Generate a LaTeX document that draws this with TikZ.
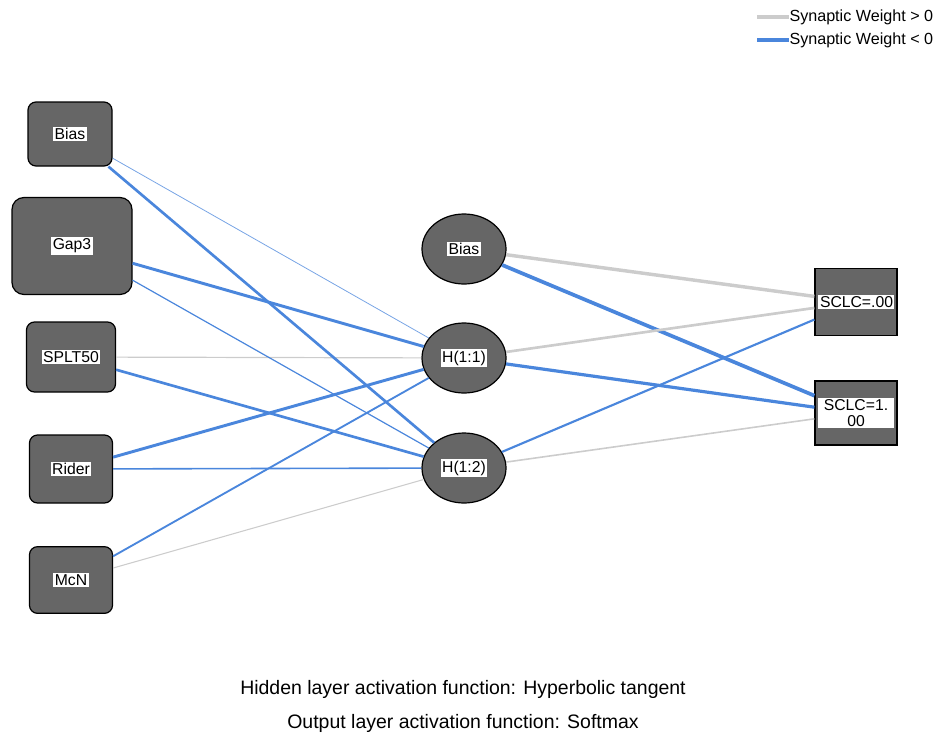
\documentclass[tikz,border=0pt]{standalone}
\usepackage{fontspec}
\setmainfont{Liberation Sans}
\usetikzlibrary{shapes.geometric}

\definecolor{wblue}{RGB}{74,134,220}
\definecolor{wgray}{RGB}{204,204,204}
\definecolor{nodefill}{RGB}{102,102,102}

\tikzset{every picture/.style={line width=0.75pt}}
\tikzset{
  inbox/.style={draw=black, fill=nodefill, rounded corners=6pt, line width=0.9pt},
  hidnode/.style={ellipse, draw=black, fill=nodefill, minimum width=63pt, minimum height=52.5pt, line width=0.9pt},
  outbox/.style={rectangle, draw=black, fill=nodefill, minimum width=61.5pt, line width=0.9pt},
  tag/.style={fill=white, inner sep=1.2pt, font=\fontsize{11.8}{12}\selectfont, align=center},
  poswt/.style={draw=wgray},
  negwt/.style={draw=wblue}
}

\begin{document}
\begin{tikzpicture}[x=0.75pt,y=0.75pt,yscale=-1,xscale=1]
	\useasboundingbox (0,0) rectangle (935,739);

	%Input layer
	\node [inbox, minimum width=63pt, minimum height=48pt, label={[tag]center:Bias}] (ib) at (70,134) {};
	\node [inbox, rounded corners=9pt, minimum width=90pt, minimum height=72.75pt, label={[tag]center:Gap3}] (gap) at (72,246) {};
	\node [inbox, minimum width=66.75pt, minimum height=52.5pt, label={[tag]center:SPLT50}] (splt) at (71,357) {};
	\node [inbox, minimum width=62.25pt, minimum height=51pt, label={[tag]center:Rider}] (rider) at (71,469) {};
	\node [inbox, minimum width=62.25pt, minimum height=50pt, label={[tag]center:McN}] (mcn) at (71,580) {};

	%Hidden layer
	\node [hidnode, label={[tag]center:Bias}] (hb) at (464,249) {};
	\node [hidnode, label={[tag]center:H(1:1)}] (h11) at (464,358) {};
	\node [hidnode, label={[tag]center:H(1:2)}] (h12) at (464,468) {};

	%Output layer
	\node [outbox, minimum height=50pt, label={[tag, text width=54pt]center:SCLC=.00}] (o0) at (856,302) {};
	\node [outbox, minimum height=48pt, label={[tag, text width=54pt]center:SCLC=1.\\00}] (o1) at (856,413) {};

	%Input -> H(1:1)
	\draw [negwt, line width=0.6pt, draw opacity=0.75] (ib) -- (h11) ;
	\draw [negwt, line width=2.2pt] (gap) -- (h11) ;
	\draw [poswt, line width=0.9pt] (splt) -- (h11) ;
	\draw [negwt, line width=2.2pt] (rider) -- (h11) ;
	\draw [negwt, line width=1.4pt] (mcn) -- (h11) ;
	%Input -> H(1:2)
	\draw [negwt, line width=2pt] (ib) -- (h12) ;
	\draw [negwt, line width=0.9pt] (gap) -- (h12) ;
	\draw [negwt, line width=2pt] (splt) -- (h12) ;
	\draw [negwt, line width=1.2pt] (rider) -- (h12) ;
	\draw [poswt, line width=0.8pt] (mcn) -- (h12) ;
	%Hidden -> Output
	\draw [poswt, line width=2.6pt] (hb) -- (o0) ;
	\draw [negwt, line width=2.8pt] (hb) -- (o1) ;
	\draw [poswt, line width=2pt] (h11) -- (o0) ;
	\draw [negwt, line width=2.4pt] (h11) -- (o1) ;
	\draw [negwt, line width=1.6pt] (h12) -- (o0) ;
	\draw [poswt, line width=1.2pt] (h12) -- (o1) ;

	%Legend
	\coordinate (lg1) at (757,17) ;
	\coordinate (lg2) at (757,40) ;
	\node [anchor=west, inner sep=0pt, font=\fontsize{12.1}{13}\selectfont] (lt1) at (789,17) {Synaptic Weight > 0};
	\node [anchor=west, inner sep=0pt, font=\fontsize{12.1}{13}\selectfont] (lt2) at (789,40) {Synaptic Weight < 0};
	\draw [poswt, line width=2.4pt] (lg1) -- (lt1.west) ;
	\draw [negwt, line width=2.4pt] (lg2) -- (lt2.west) ;

	% Text Node
	\node [font=\fontsize{14.6}{16}\selectfont] (act1) at (463,689) {Hidden layer activation function: Hyperbolic tangent};
	% Text Node
	\node [font=\fontsize{14.6}{16}\selectfont] (act2) at (463,723) {Output layer activation function: Softmax};

\end{tikzpicture}
\end{document}
